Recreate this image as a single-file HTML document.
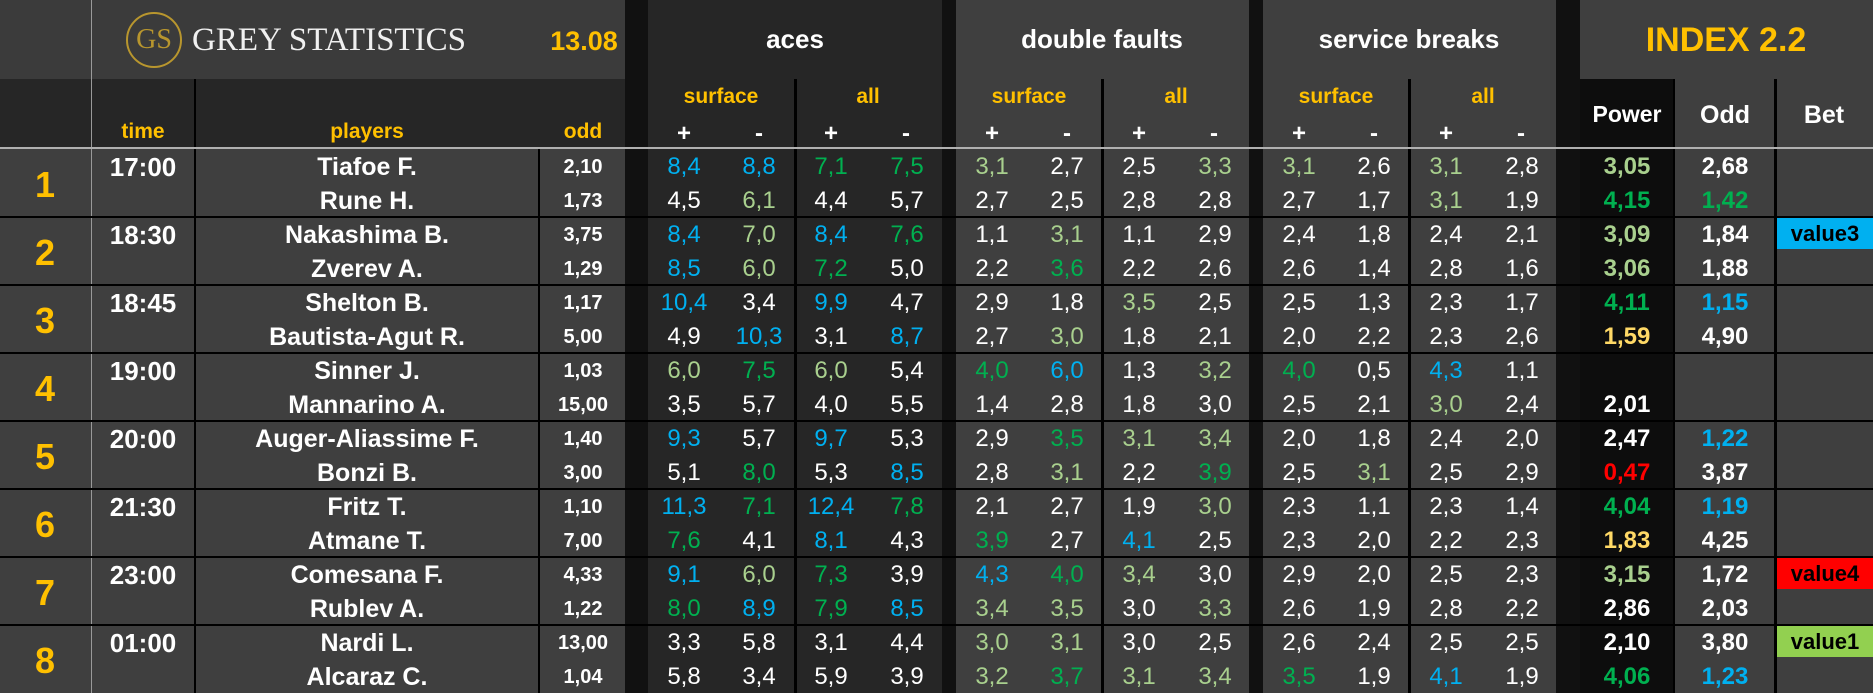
<!DOCTYPE html>
<html><head><meta charset="utf-8"><style>
html,body{margin:0;padding:0;background:#111;}
#root{position:relative;width:1873px;height:693px;overflow:hidden;background:#111;font-family:"Liberation Sans",sans-serif;}
.bg{position:absolute;}
.t{position:absolute;text-align:center;white-space:nowrap;}
</style></head><body>
<div id="root"></div>
<script>
// ---- data arrays ----
const matchNums=["1","2","3","4","5","6","7","8"];
const times=["17:00","18:30","18:45","19:00","20:00","21:30","23:00","01:00"];
const playerNames=["Tiafoe F.","Rune H.","Nakashima B.","Zverev A.","Shelton B.","Bautista-Agut R.","Sinner J.","Mannarino A.","Auger-Aliassime F.","Bonzi B.","Fritz T.","Atmane T.","Comesana F.","Rublev A.","Nardi L.","Alcaraz C."];
const playerOdds=["2,10","1,73","3,75","1,29","1,17","5,00","1,03","15,00","1,40","3,00","1,10","7,00","4,33","1,22","13,00","1,04"];
const aces=[
"8,4B 8,8B 7,1G 7,5G","4,5W 6,1L 4,4W 5,7W","8,4B 7,0L 8,4B 7,6G","8,5B 6,0L 7,2G 5,0W",
"10,4B 3,4W 9,9B 4,7W","4,9W 10,3B 3,1W 8,7B","6,0L 7,5G 6,0L 5,4W","3,5W 5,7W 4,0W 5,5W",
"9,3B 5,7W 9,7B 5,3W","5,1W 8,0G 5,3W 8,5B","11,3B 7,1G 12,4B 7,8G","7,6G 4,1W 8,1B 4,3W",
"9,1B 6,0L 7,3G 3,9W","8,0G 8,9B 7,9G 8,5B","3,3W 5,8W 3,1W 4,4W","5,8W 3,4W 5,9W 3,9W"];
const doubleFaults=[
"3,1L 2,7W 2,5W 3,3L","2,7W 2,5W 2,8W 2,8W","1,1W 3,1L 1,1W 2,9W","2,2W 3,6G 2,2W 2,6W",
"2,9W 1,8W 3,5L 2,5W","2,7W 3,0L 1,8W 2,1W","4,0G 6,0B 1,3W 3,2L","1,4W 2,8W 1,8W 3,0W",
"2,9W 3,5G 3,1L 3,4L","2,8W 3,1L 2,2W 3,9G","2,1W 2,7W 1,9W 3,0L","3,9G 2,7W 4,1B 2,5W",
"4,3B 4,0G 3,4L 3,0W","3,4L 3,5L 3,0W 3,3L","3,0L 3,1L 3,0W 2,5W","3,2L 3,7G 3,1L 3,4L"];
const serviceBreaks=[
"3,1L 2,6W 3,1L 2,8W","2,7W 1,7W 3,1L 1,9W","2,4W 1,8W 2,4W 2,1W","2,6W 1,4W 2,8W 1,6W",
"2,5W 1,3W 2,3W 1,7W","2,0W 2,2W 2,3W 2,6W","4,0G 0,5W 4,3B 1,1W","2,5W 2,1W 3,0L 2,4W",
"2,0W 1,8W 2,4W 2,0W","2,5W 3,1L 2,5W 2,9W","2,3W 1,1W 2,3W 1,4W","2,3W 2,0W 2,2W 2,3W",
"2,9W 2,0W 2,5W 2,3W","2,6W 1,9W 2,8W 2,2W","2,6W 2,4W 2,5W 2,5W","3,5G 1,9W 4,1B 1,9W"];
const powerVals=["3,05L","4,15G","3,09L","3,06L","4,11G","1,59Y","","2,01W","2,47W","0,47R","4,04G","1,83Y","3,15L","2,86W","2,10W","4,06G"];
const indexOdds=["2,68W","1,42G","1,84W","1,88W","1,15B","4,90W","","","1,22B","3,87W","1,19B","4,25W","1,72W","2,03W","3,80W","1,23B"];
const bets=["","","value3","","","","","","","","","","value4","","value1",""];
const betColors={value3:"#00b0f0",value4:"#ff0000",value1:"#92d050"};
const COL={W:"#ffffff",B:"#00b0f0",G:"#00b050",L:"#a9d08e",Y:"#ffd966",R:"#ff0000"};

const root=document.getElementById('root');
function box(x,y,w,h,c,name){const d=document.createElement('div');d.className='bg';
d.style.cssText=`left:${x}px;top:${y}px;width:${w}px;height:${h}px;background:${c}`;


root.appendChild(d);return d;}
function txt(s,cx,cy,size,color,bold,name,family){const d=document.createElement('div');d.className='t';
d.textContent=s;d.style.cssText=`left:${cx-150}px;width:300px;top:${cy-size*0.6}px;line-height:${size*1.2}px;font-size:${size}px;color:${color};font-weight:${bold?'bold':'normal'};`+(family?`font-family:${family};`:'');


root.appendChild(d);return d;}

const ROW0=149,RH=68;
const rowY=i=>ROW0+i*RH;           // match row top
const lineY=(p)=>rowY(Math.floor(p/2))+(p%2?52:18); // player line center

// ---- backgrounds ----
box(0,0,625,79,'#3b3b3b','header-logo-bg');
box(0,79,625,70,'#262626','header-columns-bg');
box(0,149,625,544,'#3f3f3f','left-body-bg');
box(648,0,294,693,'#262626','aces-bg');
box(956,0,293,693,'#3f3f3f','double-faults-bg');
box(1263,0,293,693,'#3f3f3f','service-breaks-bg');
box(1580,0,293,79,'#3f3f3f','index-header-bg');
box(1580,79,93,614,'#0d0d0d','power-col-bg');
box(1673,79,200,614,'#3f3f3f','odd-bet-bg');

// vertical lines
box(91,0,1,693,'#9a9a9a','line-num');
box(194,79,2,614,'#000','line-time');
box(538,149,2,544,'#000','line-odd');
[794,1101,1408].forEach((x,i)=>box(x,79,3,614,'#000','line-half-'+i));
box(1673,79,2,614,'#000','line-power');
box(1774,79,3,614,'#000','line-odd-bet');
// row lines
for(let i=1;i<8;i++){box(0,rowY(i)-1,1873,2,'#000','row-line-'+i);}
box(0,147,1873,2,'#b0b0b0','header-line');

// ---- header ----
const logo=document.createElement('div');logo.className='bg';
logo.style.cssText='left:126px;top:12px;width:52px;height:52px;border:2px solid #b8962e;border-radius:50%;';


root.appendChild(logo);
txt('GS',154,40,28,'#b8962e',false,'logo-gs','"Liberation Serif",serif');
const gt=txt('GREY STATISTICS',329,41,33,'#f0f0f0',false,'brand-title','"Liberation Serif",serif');
txt('13.08',584,41,27,'#ffc000',true,'date-label');
txt('aces',795,40,26,'#fff',true,'aces-title');
txt('double faults',1102,40,26,'#fff',true,'double-faults-title');
txt('service breaks',1409,40,26,'#fff',true,'service-breaks-title');
txt('INDEX 2.2',1726,40,34,'#ffc000',true,'index-title');
txt('time',143,132,21,'#ffc000',true,'time-header');
txt('players',367,132,21,'#ffc000',true,'players-header');
txt('odd',583,132,21,'#ffc000',true,'odd-header');
const blocks=[648,956,1263];
blocks.forEach((bx,bi)=>{
  [0,1].forEach(h=>{
    const hx=bx+h*147;
    txt(h?'all':'surface',hx+73,97,21,'#ffc000',true,'subheader-'+bi+'-'+h);
    txt('+',hx+36,134,24,'#fff',true,'plus-header-'+bi+'-'+h);
    txt('-',hx+111,134,24,'#fff',true,'minus-header-'+bi+'-'+h);
  });
});
txt('Power',1627,115,23,'#fff',true,'power-header');
txt('Odd',1725,115,25,'#fff',true,'odd-index-header');
txt('Bet',1824,115,25,'#fff',true,'bet-header');

// ---- body ----
matchNums.forEach((n,i)=>{
  txt(n,45,rowY(i)+36,36,'#ffc000',true,'match-number');
  txt(times[i],143,rowY(i)+19,26,'#fff',true,'match-time');
});
playerNames.forEach((p,i)=>{
  const y=lineY(i);
  txt(p,367,y,25,'#fff',true,'player-name');
  txt(playerOdds[i],583,y,20,'#fff',true,'player-odd');
  [[aces,648],[doubleFaults,956],[serviceBreaks,1263]].forEach(([arr,bx])=>{
    const cells=arr[i].split(' ');
    const offs=[36,111,183,259];
    cells.forEach((c,k)=>{
      const v=c.slice(0,-1),col=COL[c.slice(-1)];
      txt(v,bx+offs[k],y,24,col,false,'stat-value');
    });
  });
  const pv=powerVals[i];
  if(pv)txt(pv.slice(0,-1),1627,y,24,COL[pv.slice(-1)],true,'power-value');
  const ov=indexOdds[i];
  if(ov)txt(ov.slice(0,-1),1725,y,24,COL[ov.slice(-1)],true,'index-odd');
  if(bets[i]){
    const b=box(1777,rowY(Math.floor(i/2))+1,96,31,betColors[bets[i]],'bet-badge');
    txt(bets[i],1825,rowY(Math.floor(i/2))+17,22,'#000',true,'bet-label');
  }
});
</script>
</body></html>
